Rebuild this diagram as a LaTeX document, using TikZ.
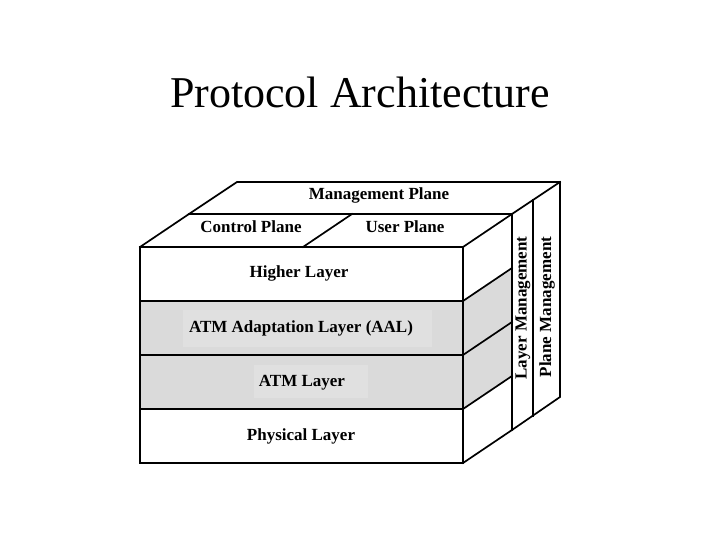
\documentclass[tikz,border=0pt]{standalone}
\usepackage{fontspec}
\setmainfont{Liberation Serif}
\definecolor{layergray}{HTML}{DADADA}
\definecolor{boxgray}{HTML}{E0E0E0}
\begin{document}
\begin{tikzpicture}[x=1pt,y=-1pt,
  edge/.style={line width=1.7pt, line join=miter, line cap=rect},
  thickedge/.style={line width=2.6pt},
  lbl/.style={font=\bfseries\fontsize{17}{20}\selectfont, inner sep=0pt},
  title/.style={font=\fontsize{44}{50}\selectfont, inner sep=0pt}]
\useasboundingbox (0,0) rectangle (720,540);
\fill[white] (0,0) rectangle (720,540);

% front block corners
\coordinate (FTL) at (140,247);
\coordinate (FTR) at (463,247);
\coordinate (FBL) at (140,463);
\coordinate (FBR) at (463,463);
% back of front block
\coordinate (BTL) at (189,214);
\coordinate (BTR) at (512,214);
\coordinate (BBR) at (512,430);
% management layer back
\coordinate (MTL) at (237,182);
\coordinate (MTR) at (560,182);
\coordinate (MBR) at (560,397);
% divider control/user
\coordinate (DF) at (303,247);
\coordinate (DB) at (352,214);
% layer management divider
\coordinate (LMT) at (533,200);
\coordinate (LMB) at (533,416);

% gray fills
\fill[layergray] (140,301) rectangle (463,409);
\fill[layergray] (463,301) -- (512,268) -- (512,376) -- (463,409) -- cycle;
\fill[boxgray] (183,310) rectangle (432,347);
\fill[boxgray] (254,365) rectangle (368,398);

% front face
\draw[edge] (FTL) rectangle (FBR);
\draw[edge] (140,301) -- (463,301);
\draw[edge] (140,355) -- (463,355);
\draw[edge] (140,409) -- (463,409);
% side face of front block
\draw[edge] (FTR) -- (BTR);
\draw[edge] (463,301) -- (512,268);
\draw[edge] (463,355) -- (512,322);
\draw[edge] (463,409) -- (512,376);
\draw[edge] (FBR) -- (BBR);
% top face (control / user)
\draw[edge] (FTL) -- (BTL) -- (BTR);
\draw[edge] (DF) -- (DB);
% management plane top
\draw[edge] (BTL) -- (MTL) -- (MTR) -- (MBR) -- (BBR);
\draw[edge] (BTR) -- (MTR);
\draw[edge] (LMT) -- (LMB);
\draw[thickedge] (BTR) -- (BBR);

% labels
\node[title, anchor=base] (ttl) at (360,108) {Protocol Architecture};
\node[lbl, anchor=base] (mgmt) at (379,200) {Management Plane};
\node[lbl, anchor=base] (ctrl) at (251,233) {Control Plane};
\node[lbl, anchor=base] (user) at (405,233) {User Plane};
\node[lbl, anchor=base] (higher) at (299,277) {Higher Layer};
\node[lbl, anchor=base] (aal) at (301,332) {ATM Adaptation Layer (AAL)};
\node[lbl, anchor=base] (atm) at (302,386) {ATM Layer};
\node[lbl, anchor=base] (phys) at (301,440) {Physical Layer};
\node[lbl, rotate=90] (laym) at (523,308) {Layer Management};
\node[lbl, rotate=90] (planem) at (547,307) {Plane Management};
\end{tikzpicture}
\end{document}
